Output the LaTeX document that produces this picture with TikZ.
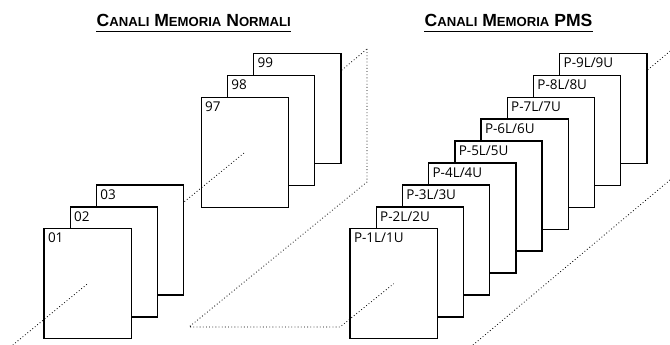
\documentclass[tikz,border=0pt]{standalone}
\usepackage{fontspec}
\usepackage{tikz}
\setmainfont{Open Sans}
\newfontfamily\titlefont{Liberation Sans}[BoldFont={* Bold}]
\newcommand\smcap[1]{{\fontsize{11.2}{13}\selectfont #1}}

\tikzset{
  card/.style={draw, fill=white, line width=1.2pt, minimum width=2.62cm, minimum height=3.3cm, anchor=north west, inner sep=0pt},
  lbl/.style={anchor=base west, inner sep=0pt, font=\fontsize{11.5}{13}\selectfont},
  title/.style={anchor=base, inner sep=0pt, font=\titlefont\bfseries\fontsize{15}{18}\selectfont},
  floor/.style={dotted, line width=0.7pt},
  uline/.style={line width=1.1pt}
}

\begin{document}
\begin{tikzpicture}[x=0.03cm, y=-0.03cm]
      % canvas in pixels: 670 x 345, y grows downwards
      \useasboundingbox (0,0) rectangle (670,345);
      % titles
      \node[title] (t1) at (193.7,26.7) {C\smcap{ANALI} M\smcap{EMORIA} N\smcap{ORMALI}};
      \node[title] (t2) at (508.5,26.7) {C\smcap{ANALI} M\smcap{EMORIA} PMS};
      \draw[uline] ([yshift=-4.3pt]t1.base west) -- ([yshift=-4.3pt]t1.base east);
      \draw[uline] ([yshift=-4.3pt]t2.base west) -- ([yshift=-4.3pt]t2.base east);
      % normal channels: step = (26.2,-21.9), back to front
      \foreach \i/\n in {8/99,7/98,6/97,2/03,1/02,0/01} {
        \node[card] (c\n) at (43.3+26.2*\i, 228-21.9*\i) {};
        \node[lbl] (l\n) at ([shift={(4.5,15)}]c\n.north west) {\n};
      }
      % PMS channels
      \foreach \i in {8,...,0} {
        \pgfmathtruncatemacro\k{\i+1}
        \node[card] (p\k) at (349.3+26.2*\i, 228-21.9*\i) {};
        \node[lbl] (m\k) at ([shift={(4.5,15)}]p\k.north west) {P-\k L/\k U};
      }
      % dotted floor lines
      \coordinate (L1a) at (12.8,345);
      \coordinate (L1b) at (367,49);
      \coordinate (V1b) at (367,182);
      \coordinate (H1a) at (189,327);
      \coordinate (L2a) at (340,327);
      \coordinate (L2b) at (670,51.2);
      \coordinate (D2a) at (473,345);
      \coordinate (D2b) at (670,180);
      \draw[floor] (L1a) -- (c01.center);
      \draw[floor] (intersection of L1a--L1b and c03.north east--c03.south east) -- (c97.center);
      \draw[floor] (intersection of L1a--L1b and c99.north east--c99.south east) -- (L1b);
      \draw[floor] (L1b) -- (V1b) -- (H1a) -- (L2a) -- (p1.center);
      \draw[floor] (intersection of L2a--L2b and p9.north east--p9.south east) -- (L2b);
      \draw[floor] (D2a) -- (D2b);
\end{tikzpicture}
\end{document}
